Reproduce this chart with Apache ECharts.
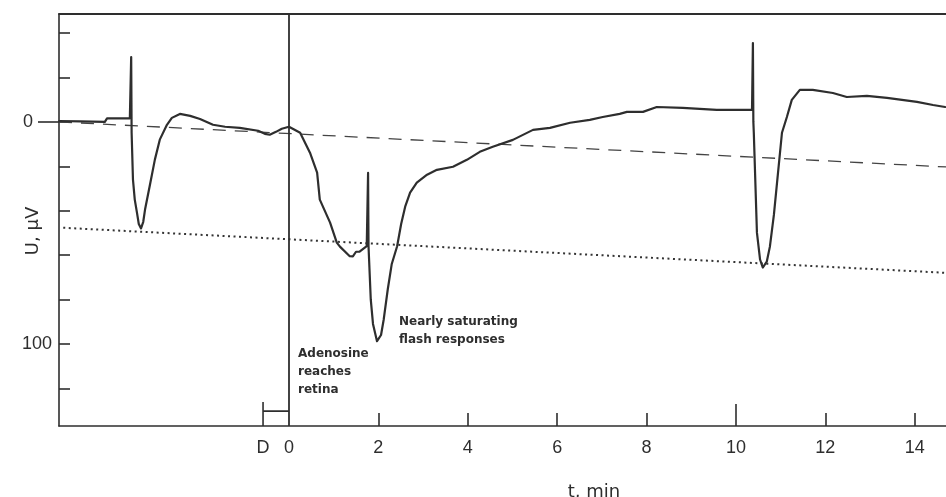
<!DOCTYPE html>
<html>
<head>
<meta charset="utf-8">
<script src="https://cdn.jsdelivr.net/npm/echarts@6/dist/echarts.min.js"></script>
<style>
  html, body { margin: 0; padding: 0; background: #fff; }
  #chart { width: 946px; height: 497px; }
</style>
</head>
<body>
<div id="chart"></div>
<script>
// time axis, min
const tMin = -5.145;
const tMax = 14.7;
const xTicks = [2, 4, 6, 8, 12, 14];
const xLongTicks = [10];
const xLabels = [-0.58, 0, 2, 4, 6, 8, 10, 12, 14]; // -0.58 is the "D" mark

// voltage axis, µV (drawn downwards)
const uMin = -48.6;
const uMax = 137;
const yTicks = [-40, -20, 0, 20, 40, 60, 80, 100, 120];

// recorded trace
const traceT = [
  -5.14, -4.68, -4.12, -4.07, -3.56, -3.54, -3.53, -3.52, -3.49, -3.45,
  -3.40, -3.36, -3.31, -3.26, -3.22, -3.11, -3.00, -2.89, -2.73, -2.62,
  -2.44, -2.21, -1.99, -1.70, -1.43, -1.10, -0.69, -0.54, -0.43, -0.29,
  -0.16, 0, 0.25, 0.47, 0.63, 0.69, 0.92, 1.07, 1.14, 1.36,
  1.43, 1.50, 1.58, 1.74, 1.77, 1.77, 1.78, 1.83, 1.88, 1.97,
  2.06, 2.12, 2.21, 2.30, 2.42, 2.51, 2.60, 2.71, 2.86, 3.09,
  3.31, 3.67, 3.98, 4.27, 4.56, 5.01, 5.46, 5.84, 6.29, 6.73,
  7.02, 7.40, 7.56, 7.92, 8.23, 8.81, 9.57, 10.36, 10.38, 10.38,
  10.39, 10.40, 10.47, 10.54, 10.60, 10.69, 10.76, 10.85, 10.92, 11.03,
  11.14, 11.25, 11.43, 11.72, 12.17, 12.48, 12.93, 13.38, 14.05, 14.41,
  14.68
];
const traceU = [
  -0.4, -0.2, 0, -1.6, -1.6, -1.6, -29.2, 5, 26, 35,
  41, 46, 48, 45, 39.5, 28.3, 17, 8, 1.3, -1.8,
  -3.6, -2.7, -1.3, 1.3, 2.2, 2.7, 4.0, 5.4, 5.8, 4.5,
  3.1, 2.2, 4.9, 13.9, 22.9, 35, 45.4, 54.4, 56.2, 60.5,
  60.6, 58.5, 58.5, 56, 56, 23, 56, 80, 91, 98.8,
  96, 89, 75.5, 64, 56, 46, 38.2, 31.9, 27.4, 23.8,
  21.6, 20.2, 17.1, 13.5, 11.2, 8.1, 3.6, 2.7, 0.4, -0.9,
  -2.2, -3.6, -4.5, -4.5, -6.7, -6.3, -5.4, -5.4, -5.4, -35.5,
  0, 4.9, 49.9, 62, 65.6, 63, 56.2, 41.8, 27.4, 4.9,
  -2.2, -9.9, -14.4, -14.4, -13.0, -11.2, -11.7, -10.8, -9.0, -7.6,
  -6.7
];

// reference lines
const dashT = [-5.145, 14.7];
const dashU = [0, 20.3];
const dotT = [-5.05, 14.7];
const dotU = [47.7, 68];

// "D" bracket
const bracketT = [-0.58, 0];
const bracketU = [126.2, 130.3, 137];

const ink = "#2e2e2e";
const zip = (a, b) => a.map((v, i) => [v, b[i]]);

let chart = echarts.init(document.getElementById("chart"));
chart.setOption({
  backgroundColor: "#fff",
  animation: false,
  grid: { left: 59, right: 0, top: 14, bottom: 71 },
  xAxis: [
    {
      type: "value", position: "bottom", min: tMin, max: tMax,
      axisLine: { show: true, onZero: false, lineStyle: { color: ink, width: 1.6 } },
      axisTick: { show: true, inside: true, length: 13, customValues: xTicks, lineStyle: { color: ink, width: 1.6 } },
      axisLabel: {
        show: true, customValues: xLabels, margin: 13,
        fontFamily: "Liberation Sans", fontSize: 18, color: ink,
        formatter: (v) => (v < 0 ? "D" : String(v)),
      },
      splitLine: { show: false },
    },
    {
      type: "value", position: "bottom", min: tMin, max: tMax,
      axisLine: { show: false, onZero: false },
      axisTick: { show: true, inside: true, length: 22, customValues: xLongTicks, lineStyle: { color: ink, width: 1.6 } },
      axisLabel: { show: false },
      splitLine: { show: false },
    },
    {
      type: "value", position: "top", min: tMin, max: tMax,
      axisLine: { show: true, onZero: false, lineStyle: { color: ink, width: 1.8 } },
      axisTick: { show: false },
      axisLabel: { show: false },
      splitLine: { show: false },
    },
  ],
  yAxis: [
    {
      type: "value", position: "left", inverse: true, min: uMin, max: uMax,
      axisLine: { show: true, onZero: false, lineStyle: { color: ink, width: 1.6 } },
      axisTick: { show: true, inside: true, length: 11, customValues: yTicks, lineStyle: { color: ink, width: 1.6 } },
      axisLabel: { show: true, customValues: [100], margin: 7, fontFamily: "Liberation Sans", fontSize: 18, color: ink },
      splitLine: { show: false },
    },
    {
      type: "value", position: "left", inverse: true, min: uMin, max: uMax,
      axisLine: { show: false, onZero: false },
      axisTick: { show: true, inside: false, length: 21, customValues: [0], lineStyle: { color: ink, width: 1.6 } },
      axisLabel: { show: true, customValues: [0], margin: 26, fontFamily: "Liberation Sans", fontSize: 18, color: ink },
      splitLine: { show: false },
    },
  ],
  series: [
    {
      type: "line", data: zip(dashT, dashU), symbol: "none", silent: true,
      lineStyle: { color: "#444", width: 1.3, type: [13, 9] },
    },
    {
      type: "line", data: zip(dotT, dotU), symbol: "none", silent: true,
      lineStyle: { color: "#333", width: 2, type: [2, 3.5] },
    },
    {
      type: "line", data: zip(traceT, traceU), symbol: "none", silent: true,
      lineStyle: { color: ink, width: 2.2, join: "round", cap: "round" },
      markLine: {
        silent: true, symbol: "none", label: { show: false },
        lineStyle: { color: ink, width: 1.8, type: "solid" },
        data: [{ xAxis: 0 }],
      },
    },
    {
      type: "line", data: [[bracketT[0], bracketU[0]], [bracketT[0], bracketU[2]]],
      symbol: "none", silent: true, lineStyle: { color: ink, width: 1.6 },
    },
    {
      type: "line", data: [[bracketT[0], bracketU[1]], [bracketT[1], bracketU[1]]],
      symbol: "none", silent: true, lineStyle: { color: ink, width: 1.6 },
    },
  ],
  graphic: [
    {
      type: "text", x: 33, y: 231, rotation: Math.PI / 2,
      style: { text: "U, µV", font: "18px 'DejaVu Sans'", fill: ink, align: "center", verticalAlign: "middle" },
    },
    {
      type: "text", x: 594, y: 492,
      style: { text: "t, min", font: "18px 'DejaVu Sans'", fill: ink, align: "center", verticalAlign: "middle" },
    },
    {
      type: "text", x: 399, y: 313,
      style: { text: "Nearly saturating\nflash responses", font: "bold 12px 'DejaVu Sans'", lineHeight: 18, fill: ink },
    },
    {
      type: "text", x: 298, y: 345,
      style: { text: "Adenosine\nreaches\nretina", font: "bold 12px 'DejaVu Sans'", lineHeight: 18, fill: ink },
    },
  ],
});
</script>
</body>
</html>
